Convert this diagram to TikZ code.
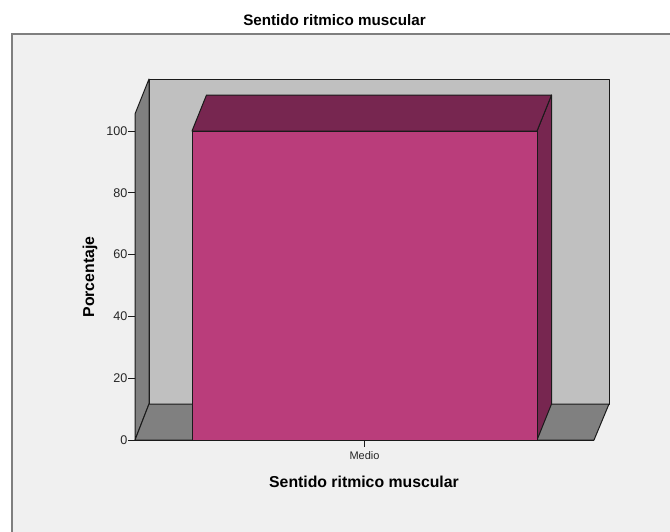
\documentclass[tikz,border=0pt]{standalone}
\usepackage{fontspec}
\setmainfont{Liberation Sans}
\definecolor{bgcol}{HTML}{F0F0F0}
\definecolor{framecol}{HTML}{7F7F7F}
\definecolor{wallback}{HTML}{C0C0C0}
\definecolor{wallside}{HTML}{808080}
\definecolor{barfront}{HTML}{BA3D7B}
\definecolor{bartop}{HTML}{772650}
\definecolor{edgecol}{HTML}{1A1A1A}
\tikzset{
  face/.style={draw=edgecol, line width=1pt, line join=round},
  ticklabel/.style={anchor=east, inner sep=0pt, font=\fontsize{12.6}{14}\selectfont, text=black!85},
  axistitle/.style={inner sep=0pt, font=\fontsize{15.8}{18}\selectfont\bfseries},
  tickmark/.style={draw=edgecol, line width=1pt}
}
\begin{document}
\begin{tikzpicture}[x=1pt,y=-1pt]
\useasboundingbox (0,0) rectangle (670,531);
\clip (0,0) rectangle (670,531);
\fill[white] (0,0) rectangle (670,531);
\draw[framecol, line width=2pt, fill=bgcol] (12,34) rectangle (700,570);

% title
\node[axistitle, anchor=base, font=\fontsize{15.2}{18}\selectfont\bfseries] (title) at (334.5,25) {Sentido ritmico muscular};

% back wall
\filldraw[face, fill=wallback] (149,79) -- (609,79) -- (609,404) -- (149,404) -- cycle;
% left wall
\filldraw[face, fill=wallside] (135,114) -- (149,79) -- (149,404) -- (135,440) -- cycle;
% floor
\filldraw[face, fill=wallside] (135,440) -- (149,404) -- (609,404) -- (594,440) -- cycle;

% bar
\filldraw[face, fill=bartop] (537,131) -- (551.5,95) -- (551.5,404) -- (537,440) -- cycle;
\filldraw[face, fill=bartop] (192,131) -- (206.5,95) -- (551.5,95) -- (537,131) -- cycle;
\filldraw[face, fill=barfront] (192,131) rectangle (537,440);

% y axis ticks
\foreach \v/\y in {0/440,20/378.2,40/316.4,60/254.6,80/192.8,100/131}{
  \draw[tickmark] (128,\y) -- (135,\y);
  \node[ticklabel] (t\v) at (127.5,\y) {\v};
}
\draw[edgecol, line width=1pt] (135,440) -- (594,440);

% x tick
\coordinate (xt) at (364.5,440);
\coordinate (xtb) at (364.5,447);
\draw[tickmark] (xt) -- (xtb);
\node[anchor=base, inner sep=0pt, font=\fontsize{11}{13}\selectfont, text=black!85] (medio) at (364.5,459) {Medio};

% axis titles
\node[axistitle, anchor=base] (xtitle) at (364,487) {Sentido ritmico muscular};
\node[axistitle, rotate=90] (ytitle) at (90,277) {Porcentaje};
\end{tikzpicture}
\end{document}
